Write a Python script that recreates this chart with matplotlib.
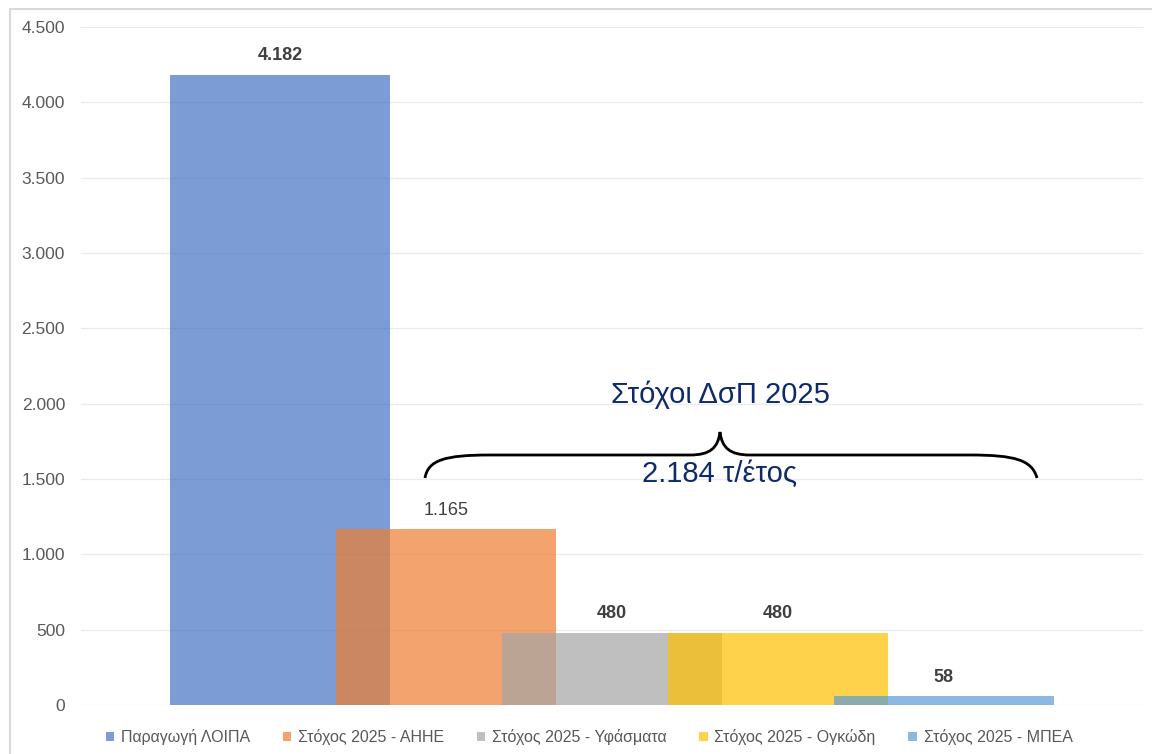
import matplotlib.pyplot as plt
from matplotlib.path import Path
from matplotlib.patches import PathPatch, Rectangle
from matplotlib.ticker import FuncFormatter

# δεδομένα
series = ["Παραγωγή ΛΟΙΠΑ", "Στόχος 2025 - ΑΗΗΕ", "Στόχος 2025 - Υφάσματα",
          "Στόχος 2025 - Ογκώδη", "Στόχος 2025 - ΜΠΕΑ"]
values = [4182, 1165, 480, 480, 58]
labels = ["4.182", "1.165", "480", "480", "58"]
bold = [True, False, True, True, True]
colors = ["#4472C4", "#ED7D31", "#A5A5A5", "#FFC000", "#5B9BD5"]
positions = [0, 1, 2, 3, 4]
yticks = [0, 500, 1000, 1500, 2000, 2500, 3000, 3500, 4000, 4500]

plt.rcParams['font.family'] = ['Liberation Sans', 'DejaVu Sans']

W, H = 1152, 754
fig = plt.figure(figsize=(W / 100, H / 100), dpi=100)
ax = fig.add_axes([81 / W, 1 - 705 / H, (1143 - 81) / W, (705 - 27) / H])

for i in range(len(values)):
    ax.bar(positions[i], values[i], width=1.33, color=colors[i], alpha=0.7,
           label=series[i], zorder=3 + i)
    ax.text(positions[i], values[i] + 70, labels[i], ha='center', va='bottom',
            fontsize=13, color='#404040', fontweight='bold' if bold[i] else 'normal',
            zorder=10)

ax.set_xlim(-1.2, 5.2)
ax.set_ylim(0, 4500)
ax.set_yticks(yticks)
ax.yaxis.set_major_formatter(FuncFormatter(lambda v, p: f"{int(v):,}".replace(",", ".")))
ax.tick_params(axis='y', length=0, labelsize=12.5, labelcolor='#595959', pad=11.5)
ax.set_xticks([])
ax.grid(axis='y', color='#EBEBEB', linewidth=1, zorder=0)
for s in ax.spines.values():
    s.set_visible(False)

# υπόμνημα
fig.legend(loc='center', bbox_to_anchor=(589 / W, 1 - 737 / H), ncol=5, frameon=False,
           fontsize=11.5, handlelength=0.55, handleheight=0.55, handletextpad=0.4,
           columnspacing=2.05, labelcolor='#595959')

# άγκιστρο
def px(x, y):
    return (x / W, 1 - y / H)

verts = [px(425, 478), px(428, 460), px(445, 455), px(490, 455),
         px(690, 455),
         px(710, 455), px(718, 448), px(720, 432),
         px(722, 448), px(730, 455), px(750, 455),
         px(970, 455),
         px(1015, 455), px(1032, 460), px(1037, 478)]
codes = [Path.MOVETO, Path.CURVE4, Path.CURVE4, Path.CURVE4,
         Path.LINETO,
         Path.CURVE4, Path.CURVE4, Path.CURVE4,
         Path.CURVE4, Path.CURVE4, Path.CURVE4,
         Path.LINETO,
         Path.CURVE4, Path.CURVE4, Path.CURVE4]
fig.add_artist(PathPatch(Path(verts, codes), transform=fig.transFigure,
                         fill=False, lw=2, color='black'))

fig.text(720 / W, 1 - 395 / H, "Στόχοι ΔσΠ 2025", ha='center', va='center',
         fontsize=21, color='#0F2B67', fontweight='medium')
fig.text(720 / W, 1 - 474 / H, "2.184 τ/έτος", ha='center', va='center',
         fontsize=21, color='#0F2B67', fontweight='medium')

# περίγραμμα
fig.add_artist(Rectangle((10 / W, -0.01), 1.0, 1 - 9 / H + 0.01, transform=fig.transFigure,
                         fill=False, edgecolor='#D9D9D9', lw=1.5))

fig.savefig("out.png", dpi=100)
